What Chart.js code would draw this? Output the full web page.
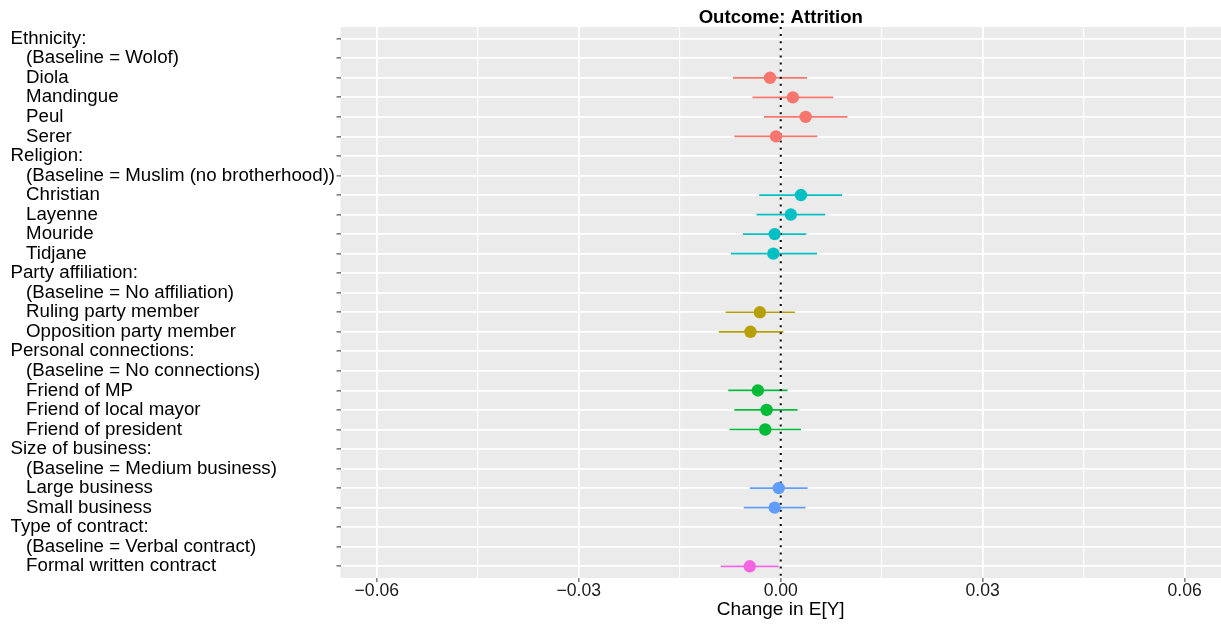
<!DOCTYPE html>
<html>
<head>
<meta charset="utf-8">
<script src="https://cdn.jsdelivr.net/npm/chart.js@4.4.0/dist/chart.umd.min.js"></script>
<style>
  html, body { margin: 0; padding: 0; background: #fff; }
  #wrap { width: 1221px; height: 626px; position: relative; }
</style>
</head>
<body>
<div id="wrap"><canvas id="myChart"></canvas></div>

<script type="text/javascript">
  // rows, top to bottom
  var rowLabels = [
    'Ethnicity:', '   (Baseline = Wolof)', '   Diola', '   Mandingue', '   Peul', '   Serer',
    'Religion:', '   (Baseline = Muslim (no brotherhood))', '   Christian', '   Layenne', '   Mouride', '   Tidjane',
    'Party affiliation:', '   (Baseline = No affiliation)', '   Ruling party member', '   Opposition party member',
    'Personal connections:', '   (Baseline = No connections)', '   Friend of MP', '   Friend of local mayor', '   Friend of president',
    'Size of business:', '   (Baseline = Medium business)', '   Large business', '   Small business',
    'Type of contract:', '   (Baseline = Verbal contract)', '   Formal written contract'
  ];
  var estimate = [
    null, null, -0.0016, 0.0018, 0.0037, -0.0007,
    null, null, 0.0030, 0.0015, -0.0009, -0.0011,
    null, null, -0.0031, -0.0045,
    null, null, -0.0034, -0.0021, -0.0023,
    null, null, -0.0003, -0.0009,
    null, null, -0.0046
  ];
  var lower = [
    null, null, -0.0071, -0.0042, -0.0025, -0.0069,
    null, null, -0.0032, -0.0036, -0.0056, -0.0074,
    null, null, -0.0082, -0.0092,
    null, null, -0.0078, -0.0069, -0.0076,
    null, null, -0.0046, -0.0055,
    null, null, -0.0089
  ];
  var upper = [
    null, null, 0.0039, 0.0078, 0.0099, 0.0054,
    null, null, 0.0091, 0.0066, 0.0038, 0.0054,
    null, null, 0.0021, 0.0004,
    null, null, 0.0010, 0.0025, 0.0030,
    null, null, 0.0040, 0.0037,
    null, null, -0.0003
  ];
  var rowGroup = [
    0, 0, 0, 0, 0, 0,
    1, 1, 1, 1, 1, 1,
    2, 2, 2, 2,
    3, 3, 3, 3, 3,
    4, 4, 4, 4,
    5, 5, 5
  ];
  var xTicks = [-0.06, -0.045, -0.03, -0.015, 0, 0.015, 0.03, 0.045, 0.06];

  var groupColors = ['#F8766D', '#00BFC4', '#B79F00', '#00BA38', '#619CFF', '#F564E3'];
  var fontFamily = '"Liberation Sans", Arial, Helvetica, sans-serif';

  function isMajor(v) {
    var r = v / 0.03;
    return Math.abs(r - Math.round(r)) < 1e-6;
  }

  var datasets = [];
  // points per group
  groupColors.forEach(function(col, g) {
    var pts = [];
    estimate.forEach(function(v, i) {
      if (v !== null && rowGroup[i] === g) pts.push({x: v, y: i});
    });
    datasets.push({
      data: pts,
      pointRadius: 6.2,
      pointHoverRadius: 6.2,
      pointBorderWidth: 0,
      pointBackgroundColor: col,
      showLine: false,
      order: 0
    });
  });
  // zero reference line
  datasets.push({
    data: [{x: 0, y: -0.6}, {x: 0, y: 27.6}],
    showLine: true,
    borderColor: '#000000',
    borderWidth: 2,
    borderDash: [2, 5.1],
    pointRadius: 0,
    order: 1
  });
  // interval lines per row
  estimate.forEach(function(v, i) {
    if (v === null) return;
    datasets.push({
      data: [{x: lower[i], y: i}, {x: upper[i], y: i}],
      showLine: true,
      borderColor: groupColors[rowGroup[i]],
      borderWidth: 1.7,
      pointRadius: 0,
      order: 2
    });
  });

  var panelBg = {
    id: 'panelBg',
    beforeDraw: function(chart) {
      var a = chart.chartArea, c = chart.ctx;
      c.save();
      c.fillStyle = '#EBEBEB';
      c.fillRect(a.left, a.top, a.right - a.left, a.bottom - a.top);
      c.restore();
    }
  };

  var ctx = document.getElementById('myChart').getContext('2d');
  var chart = new Chart(ctx, {
    type: 'scatter',
    data: { datasets: datasets },
    plugins: [panelBg],
    options: {
      responsive: true,
      maintainAspectRatio: false,
      animation: false,
      layout: { autoPadding: false, padding: { left: 10.5, top: 0, right: 0, bottom: 0 } },
      plugins: {
        legend: { display: false },
        tooltip: { enabled: false }
      },
      scales: {
        x: {
          type: 'linear',
          position: 'bottom',
          min: -0.0654,
          max: 0.0654,
          afterBuildTicks: function(s) { s.ticks = xTicks.map(function(v) { return {value: v}; }); },
          afterFit: function(s) { s.height = 48; s.paddingLeft = 0; s.paddingRight = 0; },
          border: { display: false },
          grid: {
            color: '#FFFFFF',
            lineWidth: function(c) { return isMajor(c.tick.value) ? 1.8 : 1.1; },
            tickLength: 4,
            tickWidth: 1,
            tickColor: function(c) { return isMajor(c.tick.value) ? '#333333' : 'rgba(0,0,0,0)'; }
          },
          ticks: {
            autoSkip: false,
            maxRotation: 0,
            padding: -1,
            color: '#1A1A1A',
            font: { family: fontFamily, size: 17.6 },
            callback: function(v) {
              if (!isMajor(v)) return '';
              return (v < -1e-9 ? '\u2212' : '') + Math.abs(v).toFixed(2);
            }
          },
          title: {
            display: true,
            text: 'Change in E[Y]',
            color: '#000000',
            font: { family: fontFamily, size: 19 },
            padding: { top: 0, bottom: 5 }
          }
        },
        xTop: {
          type: 'linear',
          axis: 'x',
          position: 'top',
          min: -0.0654,
          max: 0.0654,
          afterFit: function(s) { s.height = 27; s.paddingLeft = 0; s.paddingRight = 0; },
          border: { display: false },
          grid: { display: false },
          ticks: { display: false },
          title: {
            display: true,
            text: 'Outcome: Attrition',
            color: '#000000',
            font: { family: fontFamily, size: 18.6, weight: 'bold' },
            padding: { top: 7, bottom: 0 }
          }
        },
        y: {
          type: 'linear',
          position: 'left',
          reverse: true,
          min: -0.6,
          max: 27.6,
          afterBuildTicks: function(s) { s.ticks = rowLabels.map(function(_, i) { return {value: i}; }); },
          afterFit: function(s) { s.width = 330; s.paddingTop = 0; s.paddingBottom = 0; },
          border: { display: false },
          grid: {
            color: '#FFFFFF',
            lineWidth: 1.8,
            tickLength: 4,
            tickWidth: 1,
            tickColor: '#333333'
          },
          ticks: {
            autoSkip: false,
            crossAlign: 'far',
            color: '#000000',
            font: { family: fontFamily, size: 18.7 },
            callback: function(v) { return rowLabels[v]; }
          }
        }
      }
    }
  });
</script>
</body>
</html>
